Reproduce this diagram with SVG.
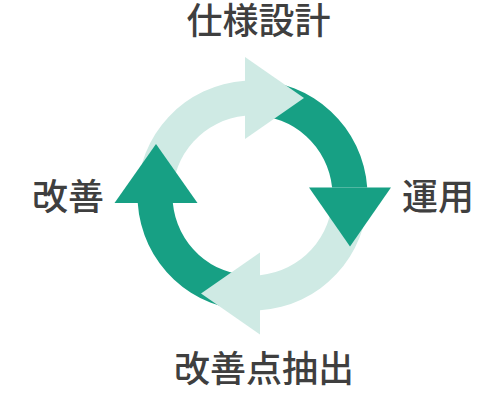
<svg xmlns="http://www.w3.org/2000/svg" width="500" height="400" viewBox="0 0 500 400">
  <style>
    .dark { fill: #17a084; }
    .light { fill: #cfeae4; }
    .label { font-family: "Noto Sans CJK JP", "Noto Sans CJK SC", sans-serif; font-size: 36px; font-weight: 500; fill: #3f3f3f; text-anchor: middle; }
  </style>
  <rect width="500" height="400" fill="#ffffff"/>
  <g id="connectors">
    <!-- arc bodies -->
    <path class="light" d="M137.5,195.5 A115 115 0 0 1 245,80.74 L245,115.85 A80 80 0 0 0 172.5,195.5 Z"/>
    <path class="dark" d="M252.5,80.5 A115 115 0 0 1 367.22,187.5 L332.1,187.5 A80 80 0 0 0 252.5,115.5 Z"/>
    <path class="light" d="M367.5,195.5 A115 115 0 0 1 260,310.26 L260,275.15 A80 80 0 0 0 332.5,195.5 Z"/>
    <path class="dark" d="M252.5,310.5 A115 115 0 0 1 137.74,203 L172.85,203 A80 80 0 0 0 252.5,275.5 Z"/>
    <!-- arrowheads -->
    <polygon class="light" points="245,57 304,98 245,139"/>
    <polygon class="dark" points="309,187.5 391,187.5 350,246.5"/>
    <polygon class="light" points="260,252.5 260,334.5 201,293.5"/>
    <polygon class="dark" points="114.5,203 197.5,203 156,144"/>
  </g>
  <g id="node-shiyou-sekkei"><text class="label" x="258.5" y="34">仕様設計</text></g>
  <g id="node-unyou"><text class="label" x="438" y="210">運用</text></g>
  <g id="node-kaizenten-chushutsu"><text class="label" x="264" y="382">改善点抽出</text></g>
  <g id="node-kaizen"><text class="label" x="68" y="210">改善</text></g>
</svg>
